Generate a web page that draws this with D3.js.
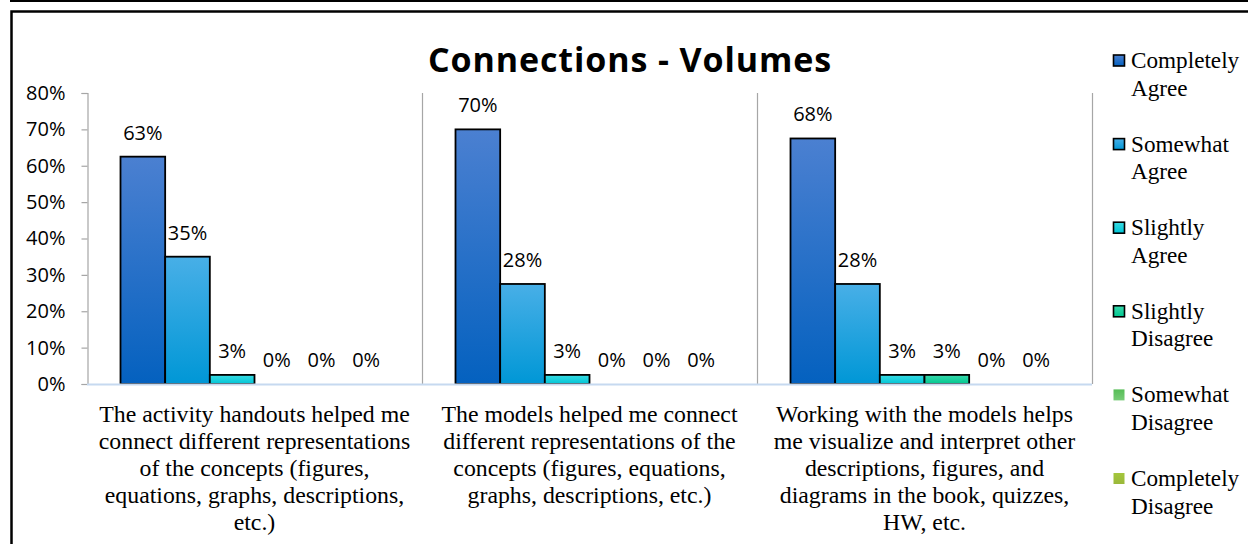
<!DOCTYPE html>
<html>
<head>
<meta charset="utf-8">
<script src="https://cdn.jsdelivr.net/npm/d3@7"></script>
<style>
  html, body { margin: 0; padding: 0; background: #fff; }
  svg { display: block; }
</style>
</head>
<body>
<svg id="chart" width="1248" height="544"></svg>
<script>
// Survey statements (x-axis categories), one array of lines per statement
const categories = [
  ["The activity handouts helped me", "connect different representations", "of the concepts (figures,", "equations, graphs, descriptions,", "etc.)"],
  ["The models helped me connect", "different representations of the", "concepts (figures, equations,", "graphs, descriptions, etc.)"],
  ["Working with the models helps", "me visualize and interpret other", "descriptions, figures, and", "diagrams in the book, quizzes,", "HW, etc."]
];

// Response levels (series)
const seriesNames = ["Completely Agree", "Somewhat Agree", "Slightly Agree", "Slightly Disagree", "Somewhat Disagree", "Completely Disagree"];

// Share of responses per statement, one array per response level
const completelyAgree    = [0.625, 0.700, 0.675];
const somewhatAgree      = [0.350, 0.275, 0.275];
const slightlyAgree      = [0.025, 0.025, 0.025];
const slightlyDisagree   = [0.000, 0.000, 0.025];
const somewhatDisagree   = [0.000, 0.000, 0.000];
const completelyDisagree = [0.000, 0.000, 0.000];

const yTicks = [0, 0.1, 0.2, 0.3, 0.4, 0.5, 0.6, 0.7, 0.8];

const seriesValues = [completelyAgree, somewhatAgree, slightlyAgree, slightlyDisagree, somewhatDisagree, completelyDisagree];

// Gradient stops (top, bottom) and outline for each response level
const gradients = [
  ["#4b80d1", "#0461bf"],
  ["#48afe7", "#0097d6"],
  ["#3adbe3", "#00c5d6"],
  ["#3ad9ad", "#00c78f"],
  ["#56bd56", "#78cc78"],
  ["#a4c63c", "#9ab83a"]
];
const outlined = [true, true, true, true, false, false];

const svg = d3.select("#chart");
const W = 1248, H = 544;

// Frame lines
svg.append("line").attr("x1", 10).attr("x2", W).attr("y1", 1).attr("y2", 1)
  .attr("stroke", "#000").attr("stroke-width", 2);
svg.append("path").attr("d", `M11.5,${H} V11.5 H${W}`)
  .attr("fill", "none").attr("stroke", "#000").attr("stroke-width", 2.5);

const defs = svg.append("defs");
gradients.forEach((g, i) => {
  const lg = defs.append("linearGradient").attr("id", "grad" + i)
    .attr("x1", 0).attr("y1", 0).attr("x2", 0).attr("y2", 1);
  lg.append("stop").attr("offset", "0%").attr("stop-color", g[0]);
  lg.append("stop").attr("offset", "100%").attr("stop-color", g[1]);
});

const plot = { left: 87, right: 1092, top: 93, bottom: 384 };

const x0 = d3.scaleBand()
  .domain(d3.range(categories.length))
  .range([plot.left, plot.right])
  .paddingInner(0).paddingOuter(0);

const x1 = d3.scaleBand()
  .domain(d3.range(seriesNames.length))
  .range([0, x0.bandwidth()])
  .paddingInner(0).paddingOuter(0.75);

const y = d3.scaleLinear().domain([0, 0.8]).range([plot.bottom, plot.top]);

const pct = d3.format(".0%");
const numFont = "'Open Sans', 'Noto Sans', sans-serif";
const serifFont = "'Liberation Serif', 'Times New Roman', serif";

// Title
svg.append("text")
  .attr("x", 630).attr("y", 72)
  .attr("text-anchor", "middle")
  .attr("font-family", numFont)
  .attr("font-weight", "bold")
  .attr("font-size", 34)
  .attr("letter-spacing", 0.9)
  .attr("fill", "#000")
  .text("Connections - Volumes");

// Category separators
svg.append("g")
  .selectAll("line")
  .data(d3.range(1, categories.length + 1))
  .join("line")
  .attr("x1", d => x0(d - 1) + x0.bandwidth() + 0.5)
  .attr("x2", d => x0(d - 1) + x0.bandwidth() + 0.5)
  .attr("y1", plot.top)
  .attr("y2", plot.bottom)
  .attr("stroke", "#a6a6a6")
  .attr("stroke-width", 1.2);

// Y axis
const yAxis = d3.axisLeft(y)
  .tickValues(yTicks)
  .tickFormat(pct)
  .tickSize(6)
  .tickPadding(16);

const yg = svg.append("g")
  .attr("transform", `translate(${plot.left + 0.5},0)`)
  .call(yAxis);
yg.select(".domain").attr("stroke", "#a6a6a6").attr("stroke-width", 1.2);
yg.selectAll(".tick line").attr("stroke", "#a6a6a6").attr("stroke-width", 1.2);
yg.selectAll(".tick text")
  .attr("font-family", numFont)
  .attr("font-size", 20)
  .attr("fill", "#000");

// Bars
const groups = svg.append("g")
  .selectAll("g")
  .data(categories.map((c, ci) => ci))
  .join("g")
  .attr("transform", ci => `translate(${x0(ci)},0)`);

groups.selectAll("rect")
  .data(ci => seriesValues.map((vals, si) => ({ si, v: vals[ci] })))
  .join("rect")
  .attr("x", d => x1(d.si))
  .attr("width", x1.bandwidth())
  .attr("y", d => y(d.v))
  .attr("height", d => y(0) - y(d.v))
  .attr("fill", d => `url(#grad${d.si})`)
  .attr("stroke", d => d.v > 0 ? "#000" : "none")
  .attr("stroke-width", 1.8);

// Value labels
groups.selectAll("text.val")
  .data(ci => seriesValues.map((vals, si) => ({ si, v: vals[ci] })))
  .join("text")
  .attr("class", "val")
  .attr("x", d => x1(d.si) + x1.bandwidth() / 2)
  .attr("y", d => y(d.v) - 17)
  .attr("text-anchor", "middle")
  .attr("font-family", numFont)
  .attr("font-size", 20)
  .attr("fill", "#000")
  .text(d => pct(d.v));

// X baseline
svg.append("line")
  .attr("x1", plot.left).attr("x2", plot.right)
  .attr("y1", plot.bottom + 0.5).attr("y2", plot.bottom + 0.5)
  .attr("stroke", "#c6d9f0").attr("stroke-width", 2);

// Category labels
svg.append("g")
  .selectAll("text")
  .data(categories)
  .join("text")
  .attr("x", (d, i) => x0(i) + x0.bandwidth() / 2)
  .attr("y", 422)
  .attr("text-anchor", "middle")
  .attr("font-family", serifFont)
  .attr("font-size", 23.8)
  .attr("fill", "#000")
  .selectAll("tspan")
  .data(d => d)
  .join("tspan")
  .attr("x", function () { return d3.select(this.parentNode).attr("x"); })
  .attr("dy", (d, i) => i === 0 ? 0 : 27)
  .text(d => d);

// Legend
const legend = svg.append("g");
const legendItems = legend.selectAll("g")
  .data(seriesNames)
  .join("g")
  .attr("transform", (d, i) => `translate(1113,${68 + i * 83.6})`);

legendItems.append("rect")
  .attr("x", 0.5).attr("y", -13)
  .attr("width", 11).attr("height", 11)
  .attr("fill", (d, i) => `url(#grad${i})`)
  .attr("stroke", (d, i) => outlined[i] ? "#000" : "none")
  .attr("stroke-width", 1.6);

legendItems.append("text")
  .attr("x", 18).attr("y", 0)
  .attr("font-family", serifFont)
  .attr("font-size", 23.2)
  .attr("fill", "#000")
  .selectAll("tspan")
  .data(d => d.split(" "))
  .join("tspan")
  .attr("x", 18)
  .attr("dy", (d, i) => i === 0 ? 0 : 27.5)
  .text(d => d);
</script>
</body>
</html>
